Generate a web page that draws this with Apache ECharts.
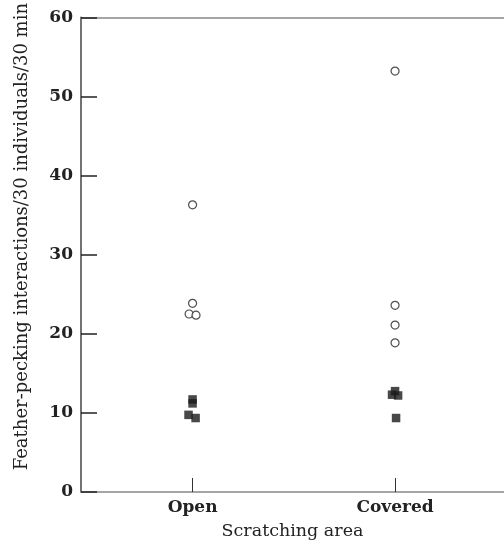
<!DOCTYPE html>
<html>
<head>
<meta charset="utf-8">
<script src="https://cdn.jsdelivr.net/npm/echarts@6/dist/echarts.min.js"></script>
<style>
  html, body { margin: 0; padding: 0; background: #fff; }
  #container { width: 504px; height: 553px; }
</style>
</head>
<body>
<div id="container"></div>
<script>
// categories on the x axis (1 = Open, 2 = Covered)
var categories = ['Open', 'Covered'];
var yTicks = [0, 10, 20, 30, 40, 50, 60];

// open circles: x = group index (with small jitter as plotted), y = value
var openCircleX = [1.0, 1.0, 0.983, 1.017];
var openCircleY = [36.3, 23.85, 22.5, 22.35];
var coveredCircleX = [2.0, 2.0, 2.0, 2.0];
var coveredCircleY = [53.2, 23.6, 21.1, 18.85];

// filled squares
var openSquareX = [1.0, 1.0, 0.98, 1.015];
var openSquareY = [11.7, 11.2, 9.75, 9.35];
var coveredSquareX = [2.0, 1.985, 2.015, 2.005];
var coveredSquareY = [12.75, 12.3, 12.2, 9.35];

function pairs(xs, ys) {
  return xs.map(function (x, i) { return [x, ys[i]]; });
}

var dom = document.getElementById('container');
var myChart = echarts.init(dom, null, { renderer: 'canvas' });

var fontFam = '"DejaVu Serif", serif';

var option = {
  animation: false,
  grid: { left: 81, right: 0, top: 16, bottom: 61, containLabel: false },
  xAxis: [
    {
      type: 'value',
      min: 0.449,
      max: 2.538,
      splitLine: { show: false },
      axisLine: { lineStyle: { color: '#888', width: 1.5 } },
      axisTick: {
        show: true, inside: true, length: 14,
        customValues: [1, 2],
        lineStyle: { color: '#333', width: 1 }
      },
      axisLabel: {
        customValues: [1, 2],
        formatter: function (v) { return categories[Math.round(v) - 1] || ''; },
        color: '#222', fontFamily: fontFam, fontSize: 17, fontWeight: 'bold', margin: 7
      },
      name: 'Scratching area',
      nameLocation: 'middle',
      nameGap: 30,
      nameTextStyle: { color: '#222', fontFamily: fontFam, fontSize: 17.5 }
    },
    {
      type: 'value',
      position: 'top',
      min: 0, max: 1,
      splitLine: { show: false },
      axisLine: { show: true, lineStyle: { color: '#888', width: 1.5 } },
      axisTick: { show: false },
      axisLabel: { show: false }
    }
  ],
  yAxis: {
    type: 'value',
    min: 0,
    max: 60,
    interval: 10,
    splitLine: { show: false },
    axisLine: { show: true, lineStyle: { color: '#444', width: 1.5 } },
    axisTick: { show: true, inside: true, length: 16, lineStyle: { color: '#222', width: 1.5 } },
    axisLabel: {
      color: '#222', fontFamily: fontFam, fontSize: 17, fontWeight: 'bold', margin: 8,
      formatter: function (v) { return yTicks.indexOf(v) >= 0 ? String(v) : ''; }
    },
    name: 'Feather-pecking interactions/30 individuals/30 min',
    nameLocation: 'middle',
    nameGap: 50,
    nameTextStyle: { color: '#222', fontFamily: fontFam, fontSize: 18, padding: [0, 0, 0, 36] }
  },
  series: [
    {
      type: 'scatter', name: 'open circles',
      symbol: 'circle', symbolSize: 8,
      itemStyle: { color: '#fff', borderColor: '#222', borderWidth: 1.2 },
      data: pairs(openCircleX, openCircleY).concat(pairs(coveredCircleX, coveredCircleY))
    },
    {
      type: 'scatter', name: 'filled squares',
      symbol: 'rect', symbolSize: 8.5,
      itemStyle: { color: '#1a1a1a' },
      data: pairs(openSquareX, openSquareY).concat(pairs(coveredSquareX, coveredSquareY))
    }
  ]
};

myChart.setOption(option);
window.addEventListener('resize', function () { myChart.resize(); });
</script>
</body>
</html>
